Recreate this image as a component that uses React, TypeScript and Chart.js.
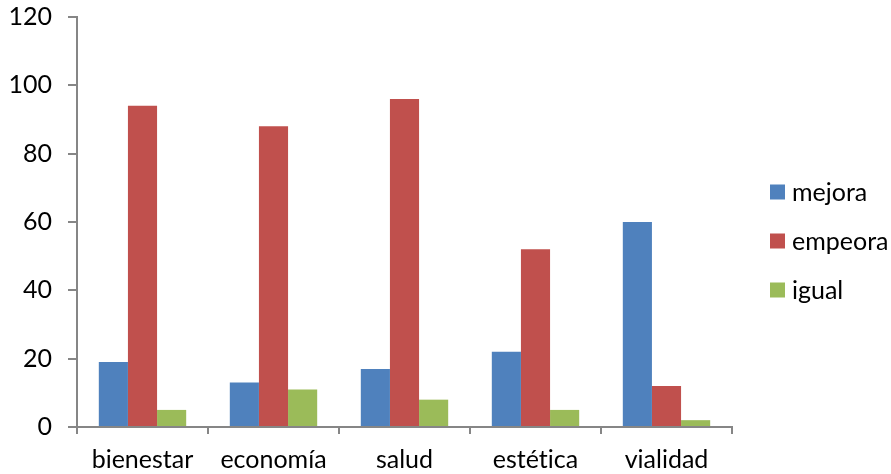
import React, { useEffect, useRef } from "react";
import { Chart, registerables } from "chart.js";

Chart.register(...registerables);

const categories = ["bienestar", "economía", "salud", "estética", "vialidad"];
const mejora = [19, 13, 17, 22, 60];
const empeora = [94, 88, 96, 52, 12];
const igual = [5, 11, 8, 5, 2];
const seriesNames = ["mejora", "empeora", "igual"];
const seriesColors = ["#4F81BD", "#C0504D", "#9BBB59"];
const FONT = "Lato, 'Open Sans', sans-serif";
const AXIS = "#868686";

const noLigatures = {
  id: "noLigatures",
  beforeDraw(chart: any) {
    const ctx = chart.ctx as any;
    try {
      ctx.textRendering = "optimizeSpeed";
    } catch (e) {}
  },
};

const legendPlugin = {
  id: "customLegend",
  afterDraw(chart: any) {
    const ctx = chart.ctx;
    ctx.save();
    ctx.font = `25px ${FONT}`;
    ctx.textBaseline = "middle";
    ctx.fillStyle = "#000";
    const x0 = 770;
    const yc = [192, 241, 290];
    chart.data.datasets.forEach((ds: any, i: number) => {
      ctx.fillStyle = ds.backgroundColor;
      ctx.fillRect(x0, yc[i] - 7.5, 15, 15);
      ctx.fillStyle = "#000";
      ctx.fillText(ds.label, x0 + 22, yc[i] + 1);
    });
    ctx.restore();
  },
};

export default function App() {
  const ref = useRef<HTMLCanvasElement | null>(null);
  useEffect(() => {
    if (!ref.current) return;
    const data = [mejora, empeora, igual];
    const chart = new Chart(ref.current, {
      type: "bar",
      data: {
        labels: categories,
        datasets: seriesNames.map((n, i) => ({
          label: n,
          data: data[i],
          backgroundColor: seriesColors[i],
          borderWidth: 0,
          categoryPercentage: 0.667,
          barPercentage: 1,
        })),
      },
      options: {
        animation: false,
        responsive: true,
        maintainAspectRatio: false,
        layout: { padding: { left: 0, right: 159, top: 17, bottom: 0 } },
        plugins: { legend: { display: false }, tooltip: { enabled: false } },
        scales: {
          x: {
            grid: {
              offset: true,
              drawOnChartArea: false,
              drawTicks: true,
              tickLength: 7,
              color: AXIS,
              lineWidth: 2,
            },
            border: { color: AXIS, width: 2 },
            ticks: { color: "#000", font: { family: FONT, size: 25 }, padding: 11, maxRotation: 0 },
            afterFit: (s: any) => {
              s.height = 47;
              s.paddingLeft = 0;
              s.paddingRight = 0;
            },
          },
          y: {
            min: 0,
            max: 120,
            ticks: { stepSize: 20, color: "#000", font: { family: FONT, size: 25 }, padding: 16 },
            grid: {
              drawOnChartArea: false,
              drawTicks: true,
              tickLength: 9,
              color: AXIS,
              lineWidth: 2,
            },
            border: { color: AXIS, width: 2 },
            afterFit: (s: any) => {
              s.width = 77;
              s.paddingTop = 0;
              s.paddingBottom = 0;
            },
          },
        },
      },
      plugins: [noLigatures, legendPlugin],
    });
    return () => chart.destroy();
  }, []);
  return (
    <div style={{ position: "absolute", left: 0, top: 0, width: 891, height: 474, background: "#fff" }}>
      <canvas ref={ref} />
    </div>
  );
}
